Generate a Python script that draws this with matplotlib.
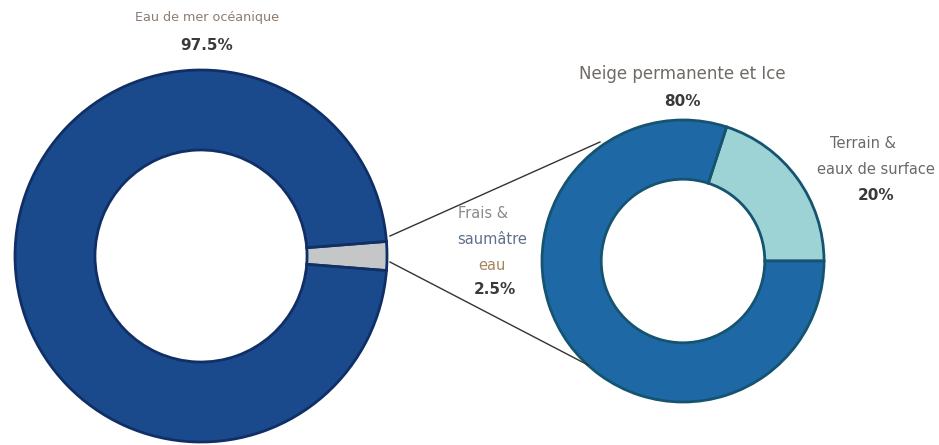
import matplotlib
matplotlib.use("Agg")
from matplotlib import pyplot as plt

# world water split, then the fresh-water share broken down
water_labels = ["Frais & saumâtre eau", "Eau de mer océanique"]
water_values = [2.5, 97.5]
fresh_labels = ["Terrain & eaux de surface", "Neige permanente et Ice"]
fresh_values = [20, 80]

W, H = 939, 445

fig = plt.figure(figsize=(W / 100, H / 100), dpi=100)
ax = fig.add_axes([0, 0, 1, 1])

# big ring: all water on earth
big_c, big_r = (201, 189), 186
ax.pie(water_values, colors=["#c4c6c8", "#1b4a8c"], startangle=-4.5,
       center=big_c, radius=big_r, frame=True,
       wedgeprops=dict(width=big_r * 0.43, edgecolor="#0f2f66", linewidth=2))

# small ring: breakdown of the fresh water
small_c, small_r = (683, 184), 141
ax.pie(fresh_values, colors=["#9dd3d5", "#1f68a6"], startangle=0,
       center=small_c, radius=small_r, frame=True,
       wedgeprops=dict(width=small_r * 0.42, edgecolor="#145470", linewidth=2))

ax.set_xlim(0, W)
ax.set_ylim(0, H)
ax.set_aspect("equal")
ax.axis("off")

# zoom lines from the grey slice to the small ring
ax.plot([390, 600], [H - 236, H - 142], color="#333333", lw=1)
ax.plot([390, 588], [H - 262, H - 365], color="#333333", lw=1)

bold = dict(fontfamily="DejaVu Sans", fontweight="bold",
            color="#3a3a3a", ha="center", va="center", fontsize=11)
plain = dict(fontfamily="DejaVu Sans", ha="center", va="center")

ax.text(207, H - 17, "Eau de mer océanique", fontsize=9.2,
        color="#8c7b70", **plain)
ax.text(207, H - 46, "97.5%", **bold)

ax.text(682, H - 74, "Neige permanente et Ice", fontsize=12,
        color="#6e6a66", **plain)
ax.text(682, H - 101, "80%", **bold)

ax.text(863, H - 143, "Terrain &", fontsize=10.5, color="#6a6a6a", **plain)
ax.text(876, H - 169, "eaux de surface", fontsize=10.5, color="#6a6a6a",
        **plain)
ax.text(876, H - 195, "20%", **bold)

ax.text(483, H - 213, "Frais &", fontsize=10.5, color="#8a8a8a", **plain)
ax.text(492, H - 240, "saumâtre", fontsize=10.5, color="#5f7088", **plain)
ax.text(492, H - 265, "eau", fontsize=10.5, color="#a7865e", **plain)
ax.text(495, H - 290, "2.5%", **bold)

fig.savefig("out.png", dpi=100)
